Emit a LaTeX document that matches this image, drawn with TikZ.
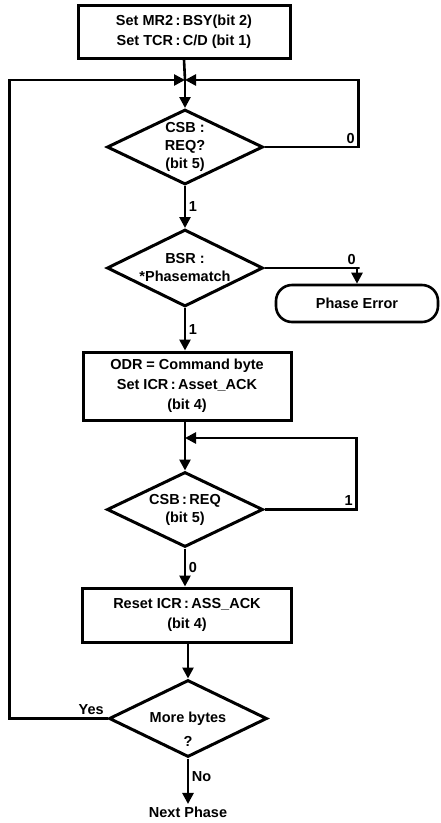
\documentclass[tikz,border=0pt]{standalone}
\usepackage{fontspec}
\setmainfont{Liberation Sans}
\usetikzlibrary{arrows.meta, positioning, shapes.geometric}

\begin{document}
\begin{tikzpicture}[
  x=1pt, y=1pt,
  every node/.style={font=\fontsize{14.5}{20}\selectfont\bfseries},
  box/.style={rectangle, draw, line width=3pt, align=center},
  dec/.style={diamond, draw, line width=3pt, inner sep=0pt, minimum width=156pt, minimum height=75pt},
  txt/.style={align=center, inner sep=0pt, font=\fontsize{14.5}{18}\selectfont\bfseries},
  term/.style={rectangle, draw, line width=2.6pt, rounded corners=16pt, minimum width=162pt, minimum height=37pt},
  lbl/.style={inner sep=2.5pt},
  arr/.style={-{Triangle[length=11pt, width=11pt]}, line width=2.6pt},
  ln/.style={line width=2.6pt}
]
  \useasboundingbox (0,0) rectangle (441,-823);

  \node[box, minimum width=212pt, minimum height=53pt] (set) at (184,-31.5) {Set MR2\,:\,BSY(bit 2)\\Set TCR\,:\,C/D (bit 1)};
  \coordinate (m1) at (185,-80);
  \node[dec, label={[txt]center:{CSB :\\REQ?\\(bit 5)}}] (req) at (185,-147) {};
  \node[dec, minimum height=77pt, label={[txt]center:{BSR :\\*Phasematch}}] (bsr) at (185,-268) {};
  \node[term] (err) at (357,-303.5) {Phase Error};
  \node[box, minimum width=208pt, minimum height=68pt] (odr) at (187,-386) {ODR = Command byte\\Set ICR\,:\,Asset\_ACK\\(bit 4)};
  \coordinate (m2) at (185,-438);
  \node[dec, label={[txt]center:{CSB\,:\,REQ\\(bit 5)}}] (req2) at (185,-509.5) {};
  \node[box, minimum width=209pt, minimum height=54pt] (rst) at (187,-615) {Reset ICR\,:\,ASS\_ACK\\(bit 4)};
  \node[dec, minimum width=158pt, minimum height=77pt, label={[txt, yshift=-11pt]center:{More bytes\\[6pt]?}}] (more) at (188,-718.5) {};
  \node[lbl] (next) at (188,-812) {Next Phase};

  \draw[ln] (set.south) -- (m1);
  \draw[arr] (m1) -- (req.north);
  \draw[arr] (req.east) -- ++(94,0) node[lbl, above left] (l0) {0} |- (m1);
  \draw[arr] (req.south) -- node[lbl, right] (l1) {1} (bsr.north);
  \draw[arr] (bsr.east) -- ++(95,0) node[lbl, above left] (l0b) {0} -| (err.north);
  \draw[arr] (bsr.south) -- node[lbl, right] (l1b) {1} (odr.north -| bsr.south);
  \draw[ln] (odr.south -| m2) -- (m2);
  \draw[arr] (m2) -- (req2.north);
  \draw[arr] (req2.east) -- ++(92,0) node[lbl, above left] (l1c) {1} |- (m2);
  \draw[arr] (req2.south) -- node[lbl, right] (l0c) {0} (rst.north -| req2.south);
  \draw[arr] (rst.south -| more.north) -- (more.north);
  \draw[arr] (more.west) node[lbl, above left] (yes) {Yes} -- ++(-98,0) |- (m1);
  \draw[arr] (more.south) -- node[lbl, right, pos=0.4] (no) {No} (next.north);
\end{tikzpicture}
\end{document}
